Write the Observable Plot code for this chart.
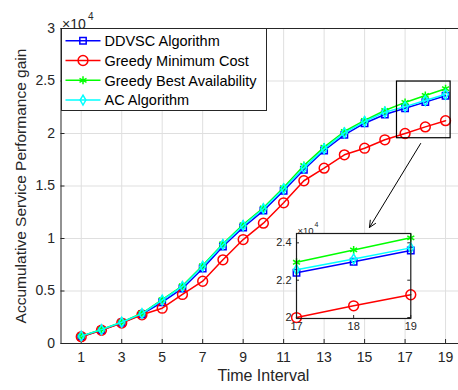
<!DOCTYPE html>
<html>
<head>
<meta charset="utf-8">
<script src="https://cdn.jsdelivr.net/npm/d3@7"></script>
<script src="https://cdn.jsdelivr.net/npm/@observablehq/plot@0.6"></script>
<style>
  html, body { margin: 0; padding: 0; background: #fff; }
  #wrap { position: relative; width: 458px; height: 390px; overflow: hidden; font-family: "Liberation Sans", Arial, sans-serif; }
  #wrap > svg, #wrap > div { position: absolute; }
</style>
</head>
<body>
<div id="wrap"></div>
<script>
// ---- data ----
const timeIntervals = [1,2,3,4,5,6,7,8,9,10,11,12,13,14,15,16,17,18,19];
const ddvsc = [650,1280,1980,2790,3930,5240,7140,9240,11050,12650,14550,16550,18380,19870,20980,21810,22400,22990,23590];
const greedyMinCost = [650,1260,1950,2730,3360,4670,5930,7970,9900,11460,13400,15500,16700,17970,18600,19400,20000,20630,21220];
const greedyBestAvail = [700,1330,2040,2880,4180,5500,7420,9500,11320,12920,14850,16950,18700,20190,21240,22190,22960,23620,24270];
const acAlgorithm = [700,1320,2020,2850,4130,5430,7360,9430,11240,12830,14730,16730,18540,20060,21140,22030,22560,23140,23730];

const seriesNames = ["DDVSC Algorithm","Greedy Minimum Cost","Greedy Best Availability","AC Algorithm"];
const seriesValues = [ddvsc, greedyMinCost, greedyBestAvail, acAlgorithm];
const seriesColors = ["#0000ff","#ff0000","#00ff00","#00ffff"];
const seriesSymbols = ["square","circle","asterisk","diamond"];
const seriesR = [3.6, 4.9, 3.8, 3.0];

const xTicks = [1,3,5,7,9,11,13,15,17,19];
const yTicks = [0,5000,10000,15000,20000,25000,30000];
const insetXTicks = [17,18,19];
const insetYTicks = [20000,22000,24000];
const insetRange = [17,18,19];

// annotation (data space)
const zoomBoxX = [16.6, 19.25];
const zoomBoxY = [19550, 24950];
const arrowFrom = [17.77, 19050];
const arrowTo = [15.24, 11050];

const xLabel = "Time Interval";
const yLabel = "Accumulative Service Performance gain";

// ---- build table ----
const table = seriesNames.flatMap((name, i) =>
  timeIntervals.map((t, j) => ({series: name, idx: i, x: t, y: seriesValues[i][j]})));

const FONT = "Liberation Sans, Arial, sans-serif";
const INK = "#262626";
const wrap = document.getElementById("wrap");

function seriesMarks(data) {
  const marks = [];
  seriesNames.forEach((name, i) => {
    const d = data.filter(r => r.idx === i);
    marks.push(Plot.line(d, {x: "x", y: "y", stroke: seriesColors[i], strokeWidth: 1.5}));
    marks.push(Plot.dot(d, {x: "x", y: "y", stroke: seriesColors[i], strokeWidth: 1.5, fill: "none", symbol: seriesSymbols[i], r: seriesR[i]}));
  });
  return marks;
}

// ---- main chart ----
const mainH = 390, mTop = 28, mBottom = 47;
const yTickLen = 30000 * 4 / (mainH - mTop - mBottom);
const xTickLen = 20 * 4 / 405;

const main = Plot.plot({
  width: 458, height: mainH,
  marginLeft: 60.5, marginRight: -7.3, marginTop: mTop, marginBottom: mBottom,
  style: {fontFamily: FONT, color: INK, background: "transparent", overflow: "hidden"},
  x: {domain: [0, 20]},
  y: {domain: [0, 30000]},
  marks: [
    Plot.gridX(xTicks, {stroke: "#dfdfdf", strokeOpacity: 1}),
    Plot.gridY(yTicks, {stroke: "#dfdfdf", strokeOpacity: 1}),
    Plot.ruleX(xTicks, {x: d => d, y1: 0, y2: yTickLen, stroke: INK}),
    Plot.ruleY(yTicks, {y: d => d, x1: 0, x2: xTickLen, stroke: INK}),
    ...seriesMarks(table),
    Plot.rect([0], {x1: () => zoomBoxX[0], x2: () => zoomBoxX[1], y1: () => zoomBoxY[0], y2: () => zoomBoxY[1], fill: "none", stroke: "#000", strokeWidth: 1.2}),
    Plot.arrow([0], {x1: () => arrowFrom[0], y1: () => arrowFrom[1], x2: () => arrowTo[0], y2: () => arrowTo[1], stroke: "#000", strokeWidth: 1, headLength: 11, headAngle: 50}),
    Plot.frame({stroke: INK, strokeWidth: 1}),
    Plot.axisX(xTicks, {tickSize: 0, tickPadding: 9, fontSize: 14, label: null}),
    Plot.axisY(yTicks, {tickSize: 0, tickPadding: 6, fontSize: 14, label: null, tickFormat: d => String(d / 1e4)}),
    Plot.text([xLabel], {text: d => d, frameAnchor: "bottom", textAnchor: "middle", dy: 37, fontSize: 16, fill: INK}),
    Plot.text([yLabel], {text: d => d, frameAnchor: "left", textAnchor: "middle", rotate: -90, dx: -40, fontSize: 15.5, fill: INK}),
    Plot.text(["×10"], {text: d => d, frameAnchor: "top-left", textAnchor: "start", dx: 1, dy: -9.5, fontSize: 14, fill: INK}),
    Plot.text(["4"], {text: d => d, frameAnchor: "top-left", textAnchor: "start", dx: 27, dy: -16, fontSize: 10, fill: INK})
  ]
});
main.style.left = "0px"; main.style.top = "0px";
wrap.appendChild(main);

// ---- inset chart ----
const iL = 30, iR = 12, iT = 16, iB = 24;
const inset = Plot.plot({
  width: iL + 114.3 + iR, height: iT + 85 + iB,
  marginLeft: iL, marginRight: iR, marginTop: iT, marginBottom: iB,
  style: {fontFamily: FONT, color: INK, background: "transparent", overflow: "visible"},
  x: {domain: [17, 19]},
  y: {domain: [19950, 24500]},
  marks: [
    Plot.frame({fill: "#fff", stroke: "none"}),
    Plot.ruleX(insetXTicks, {x: d => d, y1: 19950, y2: 19950 + 4550 * 3 / 85, stroke: INK}),
    Plot.ruleY(insetYTicks, {y: d => d, x1: 17, x2: 17 + 2 * 3 / 114.3, stroke: INK}),
    Plot.ruleY(insetYTicks, {y: d => d, x1: 19 - 2 * 3 / 114.3, x2: 19, stroke: INK}),
    ...seriesMarks(table.filter(r => insetRange.includes(r.x))),
    Plot.frame({stroke: "#1a1a1a", strokeWidth: 1.2}),
    Plot.axisX(insetXTicks, {tickSize: 0, tickPadding: 4, fontSize: 11, label: null}),
    Plot.axisY(insetYTicks, {tickSize: 0, tickPadding: 5, fontSize: 11, label: null, tickFormat: d => String(d / 1e4)}),
    Plot.text(["×10"], {text: d => d, frameAnchor: "top-left", textAnchor: "start", dx: 1, dy: -6, fontSize: 9.5, fill: INK}),
    Plot.text(["4"], {text: d => d, frameAnchor: "top-left", textAnchor: "start", dx: 18, dy: -11, fontSize: 7, fill: INK})
  ]
});
inset.style.left = (295.7 - iL) + "px"; inset.style.top = (232.7 - iT) + "px";
wrap.appendChild(inset);

// ---- legend ----
const legW = 205, legH = 82, rowY = [12.7, 32.5, 52.3, 72.1];
const leg = d3.create("svg").attr("width", legW + 1).attr("height", legH + 1)
  .style("left", "60.5px").style("top", "27.5px");
leg.append("rect").attr("x", 0.5).attr("y", 0.5).attr("width", legW).attr("height", legH)
  .attr("fill", "#fff").attr("stroke", INK).attr("stroke-width", 1);
const symMap = {square: d3.symbolSquare, circle: d3.symbolCircle, asterisk: d3.symbolAsterisk, diamond: d3.symbolDiamond};
seriesNames.forEach((name, i) => {
  const g = leg.append("g").attr("transform", `translate(0,${rowY[i]})`);
  g.append("line").attr("x1", 4.5).attr("x2", 39.5).attr("y1", 0).attr("y2", 0)
    .attr("stroke", seriesColors[i]).attr("stroke-width", 1.5);
  g.append("path").attr("transform", "translate(22,0)")
    .attr("d", d3.symbol(symMap[seriesSymbols[i]], Math.PI * seriesR[i] * seriesR[i])())
    .attr("fill", "none").attr("stroke", seriesColors[i]).attr("stroke-width", 1.5);
  g.append("text").attr("x", 43.5).attr("y", 0).attr("dy", "0.36em")
    .attr("font-family", FONT).attr("font-size", 14.5).attr("fill", "#000").text(name);
});
wrap.appendChild(leg.node());
</script>
</body>
</html>
